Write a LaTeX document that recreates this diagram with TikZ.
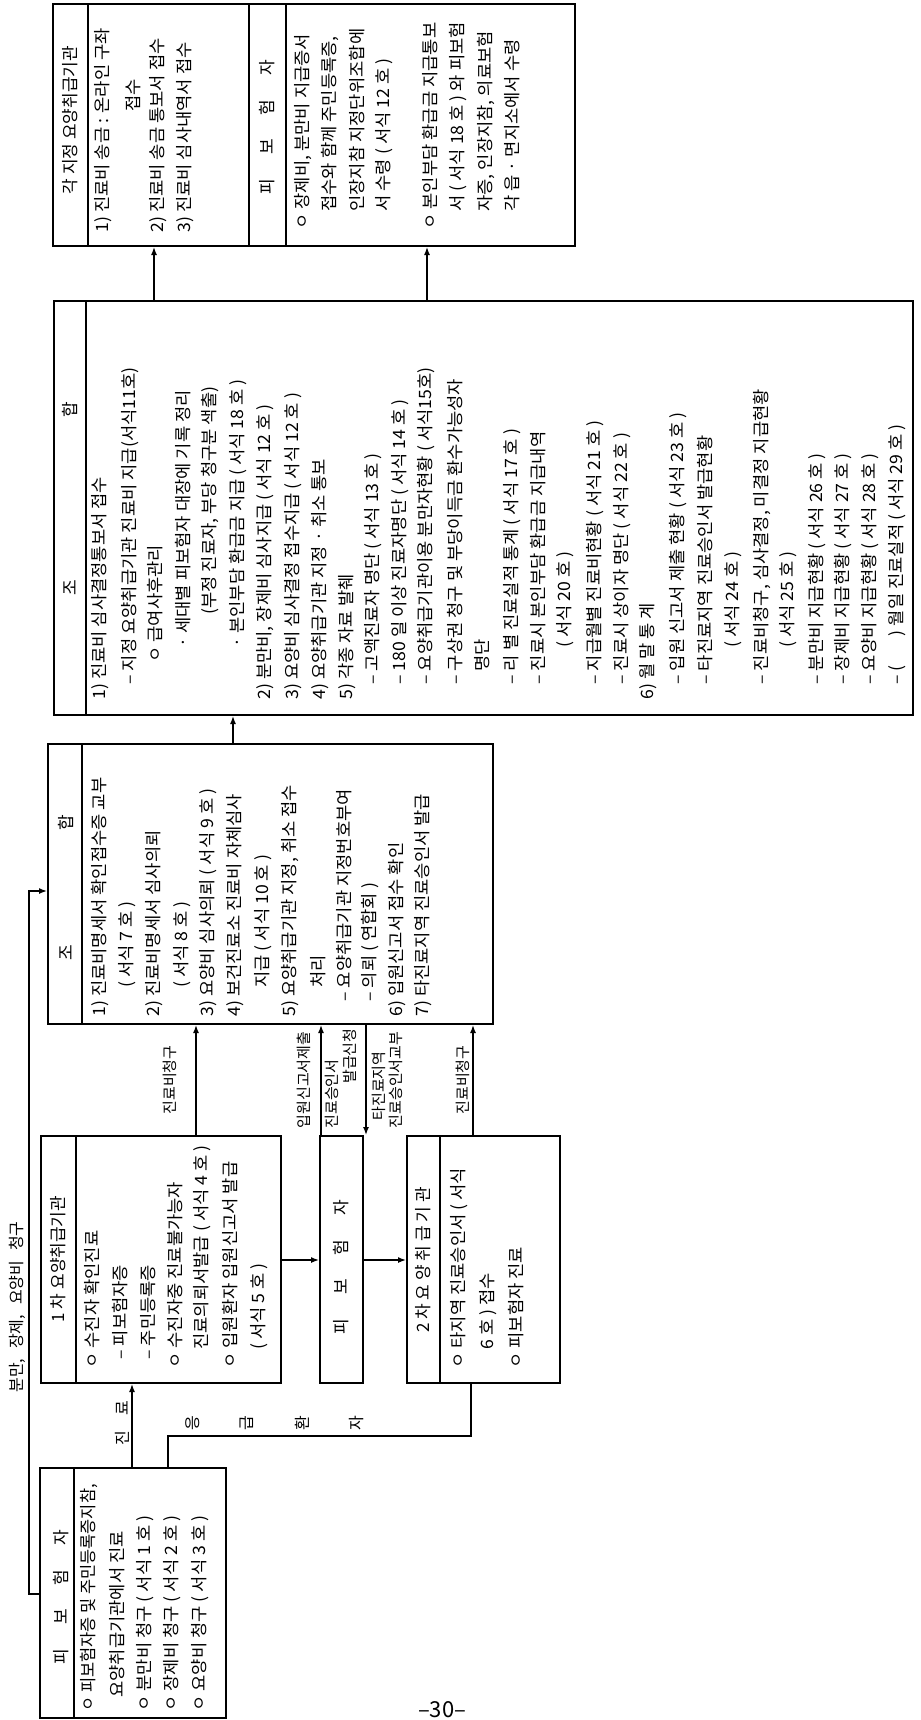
\documentclass[tikz,border=0pt]{standalone}
\usepackage{fontspec}
\setmainfont{Noto Sans CJK KR}
\usetikzlibrary{arrows.meta,fit}
\tikzset{
  box/.style={draw, line width=1pt, inner sep=0pt},
  sep/.style={line width=1pt},
  txt/.style={rotate=90, xscale=1.04, anchor=west, inner sep=0pt, font=\fontsize{8.5}{10}\selectfont},
  ctr/.style={rotate=90, inner sep=0pt, font=\fontsize{8.5}{10}\selectfont},
  lbl/.style={rotate=90, inner sep=0pt, font=\fontsize{7.5}{9}\selectfont},
  con/.style={line width=0.7pt},
  arr/.style={con, -{Latex[length=4pt,width=3pt]}},
}
\def\gap{\hspace{12pt}}

\begin{document}
\begin{tikzpicture}[x=0.5pt,y=-0.5pt]
	\useasboundingbox (0,0) rectangle (921,1720);
	
	%%%%% BOXES %%%%%
	\node[box, fit={(53,4) (575,246)}] (gakji) {};
	\node[box, fit={(54,301) (913,715)}] (johap2) {};
	\node[box, fit={(48,744) (493,1024)}] (johap1) {};
	\node[box, fit={(41,1136) (281,1383)}] (cha1) {};
	\node[box, fit={(320,1136) (363,1383)}] (pibo2) {};
	\node[box, fit={(407,1136) (560,1383)}] (cha2) {};
	\node[box, fit={(40,1468) (226,1718)}] (pibo1) {};
	
	\draw[sep] (gakji.north -| 88,0) -- (gakji.south -| 88,0);
	\draw[sep] (gakji.north -| 249,0) -- (gakji.south -| 249,0);
	\draw[sep] (gakji.north -| 286,0) -- (gakji.south -| 286,0);
	\draw[sep] (johap2.north -| 86,0) -- (johap2.south -| 86,0);
	\draw[sep] (johap1.north -| 82,0) -- (johap1.south -| 82,0);
	\draw[sep] (cha1.north -| 76,0) -- (cha1.south -| 76,0);
	\draw[sep] (cha2.north -| 440,0) -- (cha2.south -| 440,0);
	\draw[sep] (pibo1.north -| 74,0) -- (pibo1.south -| 74,0);
	
	%%%%% 각 지정 요양취급기관 %%%%%
	\node[ctr] (gakji-h) at (70,120) {각 지정 요양취급기관};
	\node[ctr] (gakji-h2) at (267,127) {피\gap 보\gap 험\gap 자};
	\foreach \x/\y/\t [count=\i] in {
		103/233/{1) 진료비 송금 : 온라인 구좌},
		133/112/{접수},
		158/233/{2) 진료비 송금 통보서 접수},
		185/233/{3) 진료비 심사내역서 접수},
		303/230/{ㅇ 장제비, 분만비 지급증서},
		330/212/{접수와 함께 주민등록증,},
		357/212/{인장지참 지정단위조합에},
		384/212/{서 수령 ( 서식 12 호 )},
		430/230/{ㅇ 본인부담 환급금 지급통보},
		458/212/{서 ( 서식 18 호 ) 와 피보험},
		486/212/{자증, 인장지참, 의료보험},
		512/212/{각 읍 · 면지소에서 수령}}
		\node[txt] (gakji-\i) at (\x,\y) {\t};
	
	%%%%% 조합 (오른쪽) %%%%%
	\node[ctr] (johap2-cho) at (70,588) {조};
	\node[ctr] (johap2-hap) at (70,410) {합};
	\foreach \x/\y/\t [count=\i] in {
		100/700/{1) 진료비 심사결정통보서 접수},
		130/685/{– 지정 요양취급기관 진료비 지급(서식11호)},
		155/663/{ㅇ 급여사후관리},
		183/648/{· 세대별 피보험자 대장에 기록 정리},
		210/615/{(부정 진료자, 부당 청구분 색출)},
		238/648/{· 본인부담 환급금 지급 ( 서식 18 호 )},
		265/700/{2) 분만비, 장제비 심사지급 ( 서식 12 호 )},
		293/700/{3) 요양비 심사결정 접수지급 ( 서식 12 호 )},
		320/700/{4) 요양취급기관 지정 · 취소 통보},
		347/700/{5) 각종 자료 발췌},
		373/685/{– 고액진료자 명단 ( 서식 13 호 )},
		400/685/{– 180 일 이상 진료자명단 ( 서식 14 호 )},
		426/685/{– 요양취급기관이용 분만자현황 ( 서식15호)},
		455/685/{– 구상권 청구 및 부당이득금 환수가능성자},
		482/672/{명단},
		512/685/{– 리 별 진료실적 통계 ( 서식 17 호 )},
		538/685/{– 진료시 본인부담 환급금 지급내역},
		565/648/{( 서식 20 호 )},
		595/685/{– 지급월별 진료비현황 ( 서식 21 호 )},
		622/685/{– 진료시 상이자 명단 ( 서식 22 호 )},
		648/700/{6) 월 말 통 계},
		678/685/{– 입원 신고서 제출 현황 ( 서식 23 호 )},
		705/685/{– 타진료지역 진료승인서 발급현황},
		733/648/{( 서식 24 호 )},
		762/685/{– 진료비청구, 심사결정, 미결정 지급현황},
		788/648/{( 서식 25 호 )},
		817/685/{– 분만비 지급현황 ( 서식 26 호 )},
		843/685/{– 장제비 지급현황 ( 서식 27 호 )},
		870/685/{– 요양비 지급현황 ( 서식 28 호 )},
		897/685/{– (\hspace{14pt}) 월일 진료실적 ( 서식 29 호 )}}
		\node[txt] (johap2-\i) at (\x,\y) {\t};
	
	%%%%% 조합 (가운데) %%%%%
	\node[ctr] (johap1-cho) at (66,953) {조};
	\node[ctr] (johap1-hap) at (66,823) {합};
	\foreach \x/\y/\t [count=\i] in {
		100/1017/{1) 진료비명세서 확인접수증 교부},
		127/988/{( 서식 7 호 )},
		154/1017/{2) 진료비명세서 심사의뢰},
		182/988/{( 서식 8 호 )},
		208/1017/{3) 요양비 심사의뢰 ( 서식 9 호 )},
		235/1017/{4) 보건진료소 진료비 자체심사},
		263/988/{지급 ( 서식 10 호 )},
		290/1017/{5) 요양취급기관 지정, 취소 접수},
		318/988/{처리},
		344/1002/{– 요양취급기관 지정번호부여},
		370/1002/{– 의뢰 ( 연합회 )},
		397/1017/{6) 입원신고서 접수 확인},
		423/1017/{7) 타진료지역 진료승인서 발급}}
		\node[txt] (johap1-\i) at (\x,\y) {\t};
	
	%%%%% 1차 / 피보험자 / 2차 %%%%%
	\node[ctr] (cha1-h) at (58,1259) {1 차 요양취급기관};
	\foreach \x/\y/\t [count=\i] in {
		92/1369/{ㅇ 수진자 확인진료},
		120/1360/{– 피보험자증},
		148/1360/{– 주민등록증},
		175/1369/{ㅇ 수진자중 진료불가능자},
		202/1350/{진료의뢰서발급 ( 서식 4 호 )},
		230/1369/{ㅇ 입원환자 입원신고서 발급},
		259/1350/{( 서식 5 호 )}}
		\node[txt] (cha1-\i) at (\x,\y) {\t};
	
	\node[ctr] (pibo2-h) at (341,1267) {피\gap 보\gap 험\gap 자};
	
	\node[ctr] (cha2-h) at (423,1260) {2 차 요 양 취 급 기 관};
	\foreach \x/\y/\t [count=\i] in {
		459/1369/{ㅇ 타지역 진료승인서 ( 서식},
		488/1350/{6 호 ) 접수},
		516/1369/{ㅇ 피보험자 진료}}
		\node[txt] (cha2-\i) at (\x,\y) {\t};
	
	%%%%% 피보험자 %%%%%
	\node[ctr] (pibo1-h) at (61,1597) {피\gap 보\gap 험\gap 자};
	\node[txt, xscale=0.93] (pibo1-1) at (89,1712) {ㅇ 피보험자증 및 주민등록증지참,};
	\foreach \x/\y/\t [count=\i from 2] in {
		117/1698/{요양취급기관에서 진료},
		145/1712/{ㅇ 분만비 청구 ( 서식 1 호 )},
		172/1712/{ㅇ 장제비 청구 ( 서식 2 호 )},
		200/1712/{ㅇ 요양비 청구 ( 서식 3 호 )}}
		\node[txt] (pibo1-\i) at (\x,\y) {\t};
	
	%%%%% CONNECTORS %%%%%
	\draw[arr] (johap2.north -| 154,0) -- (gakji.south -| 154,0);
	\draw[arr] (johap2.north -| 427,0) -- (gakji.south -| 427,0);
	\draw[arr] (johap1.north -| 233,0) -- (johap2.south -| 233,0);
	\draw[arr] (cha1.north -| 196,0) -- (johap1.south -| 196,0);
	\draw[arr] (pibo2.north -| 321,0) -- (johap1.south -| 321,0);
	\draw[arr] (johap1.south -| 366,0) -- (pibo2.north -| 366,0);
	\draw[arr] (cha2.north -| 473,0) -- (johap1.south -| 473,0);
	\draw[arr] (cha1.east |- 0,1260) -- (pibo2.west |- 0,1260);
	\draw[arr] (pibo2.east |- 0,1260) -- (cha2.west |- 0,1260);
	\draw[arr] (pibo1.north -| 132,0) -- (cha1.south -| 132,0);
	
	\coordinate (eungbend) at (471,1436);
	\draw[con] (pibo1.north -| 168,0) |- (eungbend) -- (cha2.south -| eungbend);
	
	\coordinate (bunbend) at (29,891);
	\draw[arr] (pibo1.west |- 0,1594) -| (bunbend) -- (johap1.west |- bunbend);
	
	%%%%% LABELS %%%%%
	\node[lbl] (l-cheong1) at (170,1080) {진료비청구};
	\node[lbl] (l-ipwon) at (304,1080) {입원신고서제출};
	\node[lbl] (l-seungin1) at (332,1094) {진료승인서};
	\node[lbl] (l-balgeup) at (350,1056) {발급신청};
	\node[lbl] (l-tajin) at (379,1086) {타진료지역};
	\node[lbl] (l-seungin2) at (396,1080) {진료승인서교부};
	\node[lbl] (l-cheong2) at (463,1080) {진료비청구};
	\node[lbl, font=\fontsize{8}{9}\selectfont] (l-bunman) at (17,1307) {분만,\hspace{5pt}장제,\hspace{5pt}요양비\hspace{5pt}청구};
	\node[lbl, font=\fontsize{8}{9}\selectfont] (l-jinryo) at (122,1423) {진\hspace{8pt}료};
	\foreach \x/\c [count=\i] in {193/응, 247/급, 302/환, 357/자}
		\node[lbl, font=\fontsize{8}{9}\selectfont] (l-eung\i) at (\x,1423) {\c};
	
	\node[inner sep=0pt, font=\fontsize{11}{11}\selectfont] (pageno) at (442,1710) {–30–};
	
\end{tikzpicture}
\end{document}
